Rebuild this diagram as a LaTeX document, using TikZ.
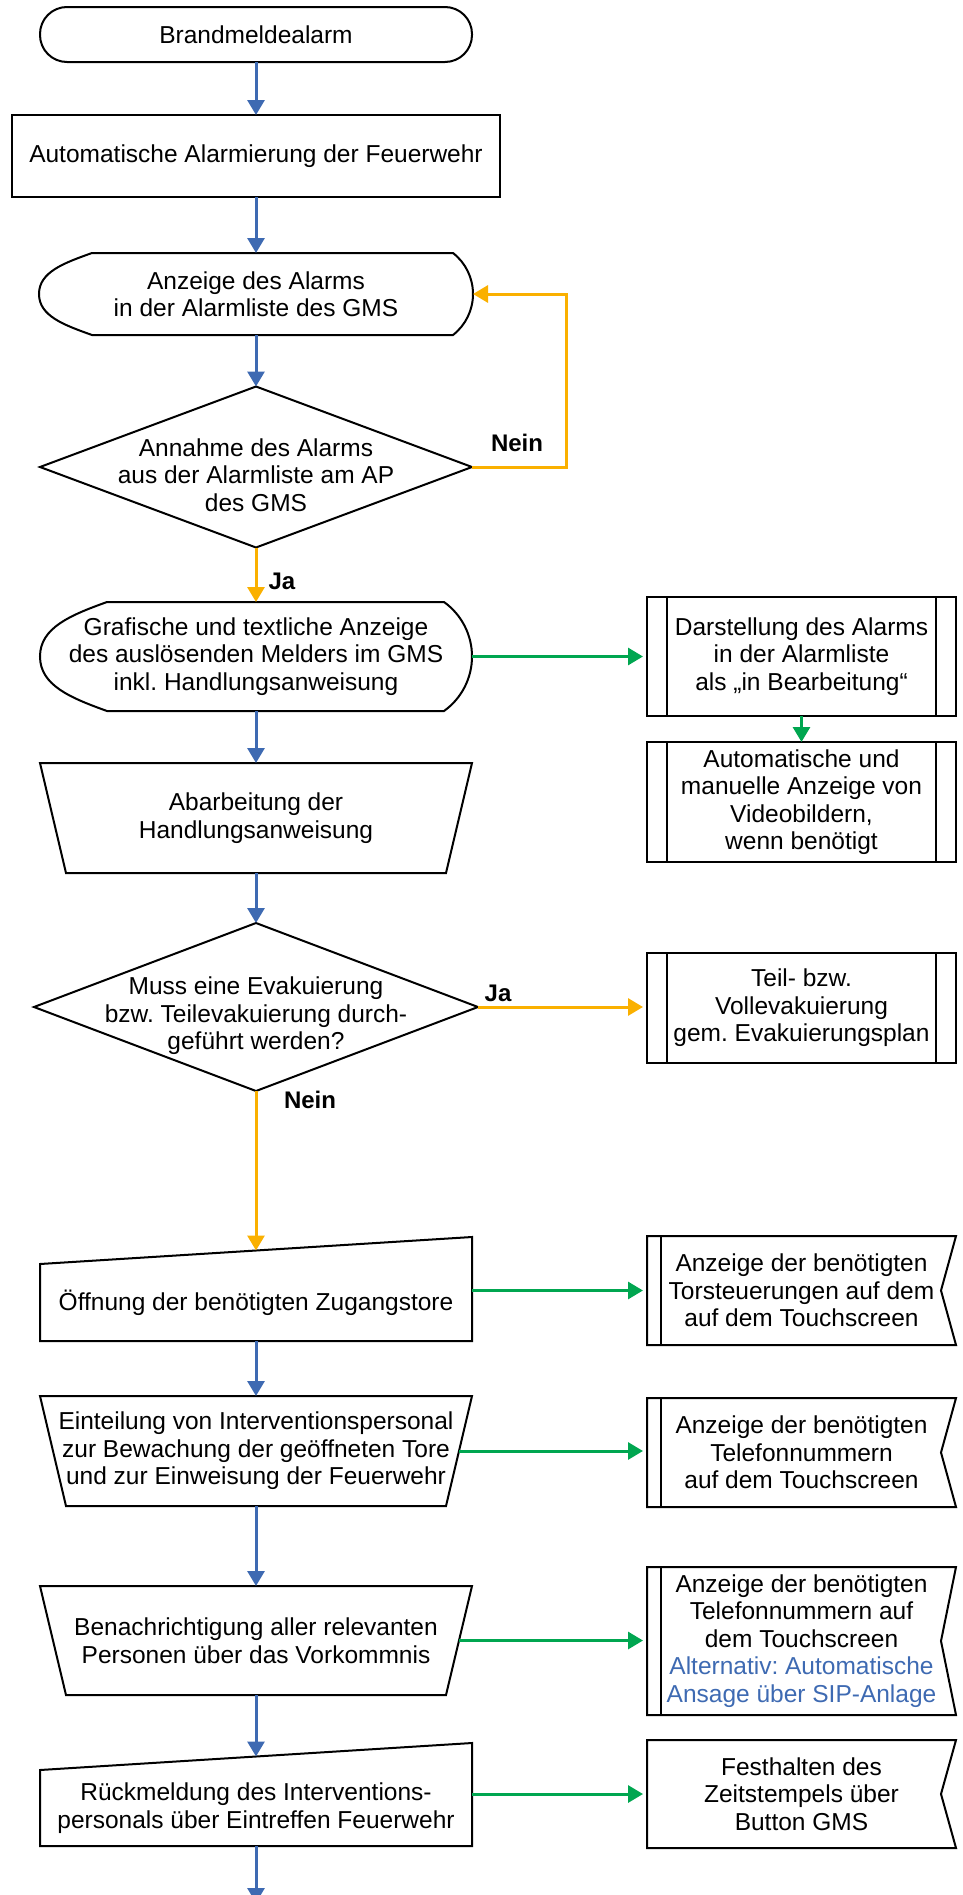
\documentclass[tikz,border=0pt]{standalone}
\usepackage{fontspec}
\setmainfont{Liberation Sans}
\usetikzlibrary{arrows.meta}
\frenchspacing
\definecolor{cblue}{RGB}{62,106,178}
\definecolor{corange}{RGB}{250,176,0}
\definecolor{cgreen}{RGB}{0,166,80}
\tikzset{
  box/.style={shape=rectangle, draw=none, inner sep=0pt, outer sep=0pt, align=center},
  ln/.style={line width=2pt, draw=black, line join=miter},
  lbl/.style={inner sep=0pt, font=\fontsize{24}{27}\selectfont\bfseries},
  flowb/.style={line width=3pt, draw=cblue, -{Triangle[length=15pt,width=17pt]}},
  flowo/.style={line width=3pt, draw=corange, -{Triangle[length=15pt,width=17pt]}},
  flowg/.style={line width=3pt, draw=cgreen, -{Triangle[length=15pt,width=17pt]}},
}
\begin{document}
\begin{tikzpicture}[x=1pt, y=-1pt, font=\fontsize{24.5}{27.5}\selectfont]
\useasboundingbox (0,0) rectangle (962,1895);

% --- left column ---
\node[box, ln, draw, rounded corners=27pt, minimum width=432pt, minimum height=55pt] (t1) at (256,34.5) {Brandmeldealarm};
\node[box, ln, draw, minimum width=488pt, minimum height=82pt] (r1) at (256,156) {Automatische Alarmierung der Feuerwehr};

\node[box, minimum width=434pt, minimum height=82pt] (disp1) at (256,294) {Anzeige des Alarms\\in der Alarmliste des GMS};
\draw[ln] ([xshift=53pt]disp1.north west) -- ([xshift=-20pt]disp1.north east)
  .. controls +(12.6,9.8) and +(0,-16) .. (disp1.east)
  .. controls +(0,16) and +(12.6,-9.8) .. ([xshift=-20pt]disp1.south east)
  -- ([xshift=53pt]disp1.south west)
  .. controls +(-28,-10) and +(0,22) .. (disp1.west)
  .. controls +(0,-22) and +(-28,10) .. cycle;

\node[box, minimum width=432pt, minimum height=161pt] (dec1) at (256,467) {};
\draw[ln] (dec1.north) -- (dec1.east) -- (dec1.south) -- (dec1.west) -- cycle;
\node[box] (dec1t) at ([yshift=-8pt]dec1.center) {Annahme des Alarms\\aus der Alarmliste am AP\\des GMS};

\node[box, minimum width=432pt, minimum height=109pt] (disp2) at (256,656.5) {Grafische und textliche Anzeige\\des auslösenden Melders im GMS\\inkl. Handlungsanweisung};
\draw[ln] ([xshift=67pt]disp2.north west) -- ([xshift=-28pt]disp2.north east)
  .. controls +(17.6,12.6) and +(0,-21.6) .. (disp2.east)
  .. controls +(0,21.6) and +(17.6,-12.6) .. ([xshift=-28pt]disp2.south east)
  -- ([xshift=67pt]disp2.south west)
  .. controls +(-36,-13) and +(0,29) .. (disp2.west)
  .. controls +(0,-29) and +(-36,13) .. cycle;

\node[box, minimum width=432pt, minimum height=110pt] (mo1) at (256,818) {Abarbeitung der\\Handlungsanweisung};
\draw[ln] (mo1.north west) -- (mo1.north east) -- ([xshift=-26pt]mo1.south east) -- ([xshift=26pt]mo1.south west) -- cycle;

\node[box, minimum width=444pt, minimum height=168pt] (dec2) at (256,1007) {};
\draw[ln] (dec2.north) -- (dec2.east) -- (dec2.south) -- (dec2.west) -- cycle;
\node[box] (dec2t) at ([yshift=-9pt]dec2.center) {Muss eine Evakuierung\\bzw. Teilevakuierung durch-\\geführt werden?};

\node[box, minimum width=432pt, minimum height=77pt] (mi1) at (256,1302.5) {Öffnung der benötigten Zugangstore};
\draw[ln] (mi1.north west) -- ([yshift=27pt]mi1.north east) -- (mi1.south east) -- (mi1.south west) -- cycle;

\node[box, minimum width=432pt, minimum height=110pt] (mo2) at (256,1451) {Einteilung von Interventionspersonal\\zur Bewachung der geöffneten Tore\\und zur Einweisung der Feuerwehr};
\draw[ln] (mo2.north west) -- (mo2.north east) -- ([xshift=-26pt]mo2.south east) -- ([xshift=26pt]mo2.south west) -- cycle;

\node[box, minimum width=432pt, minimum height=109pt] (mo3) at (256,1640.5) {Benachrichtigung aller relevanten\\Personen über das Vorkommnis};
\draw[ln] (mo3.north west) -- (mo3.north east) -- ([xshift=-26pt]mo3.south east) -- ([xshift=26pt]mo3.south west) -- cycle;

\node[box, minimum width=432pt, minimum height=76pt] (mi2) at (256,1808) {Rückmeldung des Interventions-\\personals über Eintreffen Feuerwehr};
\draw[ln] (mi2.north west) -- ([yshift=27pt]mi2.north east) -- (mi2.south east) -- (mi2.south west) -- cycle;

% --- right column ---
\node[box, ln, draw, minimum width=309pt, minimum height=119pt] (p1) at (801.5,656.5) {Darstellung des Alarms\\in der Alarmliste\\als „in Bearbeitung“};
\draw[ln] ([xshift=20pt]p1.north west) -- ([xshift=20pt]p1.south west) ([xshift=-20pt]p1.north east) -- ([xshift=-20pt]p1.south east);

\node[box, ln, draw, minimum width=309pt, minimum height=120pt] (p2) at (801.5,802) {Automatische und\\manuelle Anzeige von\\Videobildern,\\wenn benötigt};
\draw[ln] ([xshift=20pt]p2.north west) -- ([xshift=20pt]p2.south west) ([xshift=-20pt]p2.north east) -- ([xshift=-20pt]p2.south east);

\node[box, ln, draw, minimum width=309pt, minimum height=110pt] (p3) at (801.5,1008) {Teil- bzw.\\Vollevakuierung\\gem. Evakuierungsplan};
\draw[ln] ([xshift=20pt]p3.north west) -- ([xshift=20pt]p3.south west) ([xshift=-20pt]p3.north east) -- ([xshift=-20pt]p3.south east);

\node[box, minimum width=309pt, minimum height=109pt] (s1) at (801.5,1290.5) {Anzeige der benötigten\\Torsteuerungen auf dem\\auf dem Touchscreen};
\draw[ln] (s1.north west) -- (s1.north east) -- ([xshift=-15pt]s1.east) -- (s1.south east) -- (s1.south west) -- cycle;
\draw[ln] ([xshift=14pt]s1.north west) -- ([xshift=14pt]s1.south west);

\node[box, minimum width=309pt, minimum height=109pt] (s2) at (801.5,1452.5) {Anzeige der benötigten\\Telefonnummern\\auf dem Touchscreen};
\draw[ln] (s2.north west) -- (s2.north east) -- ([xshift=-15pt]s2.east) -- (s2.south east) -- (s2.south west) -- cycle;
\draw[ln] ([xshift=14pt]s2.north west) -- ([xshift=14pt]s2.south west);

\node[box, minimum width=309pt, minimum height=148pt] (s3) at (801.5,1641) {Anzeige der benötigten\\Telefonnummern auf\\dem Touchscreen\\\textcolor{cblue}{Alternativ: Automatische}\\\textcolor{cblue}{Ansage über SIP-Anlage}};
\draw[ln] (s3.north west) -- (s3.north east) -- ([xshift=-15pt]s3.east) -- (s3.south east) -- (s3.south west) -- cycle;
\draw[ln] ([xshift=14pt]s3.north west) -- ([xshift=14pt]s3.south west);

\node[box, minimum width=309pt, minimum height=108pt] (s4) at (801.5,1794) {Festhalten des\\Zeitstempels über\\Button GMS};
\draw[ln] (s4.north west) -- (s4.north east) -- ([xshift=-15pt]s4.east) -- (s4.south east) -- (s4.south west) -- cycle;

% --- connectors ---
\draw[flowb] (t1.south) -- (r1.north);
\draw[flowb] (r1.south) -- (disp1.north);
\draw[flowb] (disp1.south) -- (dec1.north);
\draw[flowo] (dec1.east) -- ++(94,0) |- (disp1.east);
\draw[flowo] (dec1.south) -- (disp2.north);
\draw[flowg, shorten >=4pt] (disp2.east) -- (p1.west);
\draw[flowg] (p1.south) -- (p2.north);
\draw[flowb] (disp2.south) -- (mo1.north);
\draw[flowb] (mo1.south) -- (dec2.north);
\draw[flowo, shorten >=4pt] (dec2.east) -- (dec2.east -| p3.west);
\draw[flowo] (dec2.south) -- ([yshift=13.5pt]mi1.north);
\draw[flowg, shorten >=4pt] (s1.west -| mi1.east) -- (s1.west);
\draw[flowb] (mi1.south) -- (mo2.north);
\draw[flowg, shorten >=4pt] ([xshift=-13pt]mo2.east) -- (mo2.east -| s2.west);
\draw[flowb] (mo2.south) -- (mo3.north);
\draw[flowg, shorten >=4pt] ([xshift=-13pt]mo3.east) -- (mo3.east -| s3.west);
\draw[flowb] (mo3.south) -- ([yshift=13.5pt]mi2.north);
\draw[flowg, shorten >=4pt] (s4.west -| mi2.east) -- (s4.west);
\coordinate (bend) at (256,1903);
\draw[flowb] (mi2.south) -- (bend);

% --- labels ---
\node[lbl] (l1) at (517,443) {Nein};
\node[lbl] (l2) at (282,581) {Ja};
\node[lbl] (l3) at (498,993) {Ja};
\node[lbl] (l4) at (310,1100) {Nein};
\end{tikzpicture}
\end{document}
